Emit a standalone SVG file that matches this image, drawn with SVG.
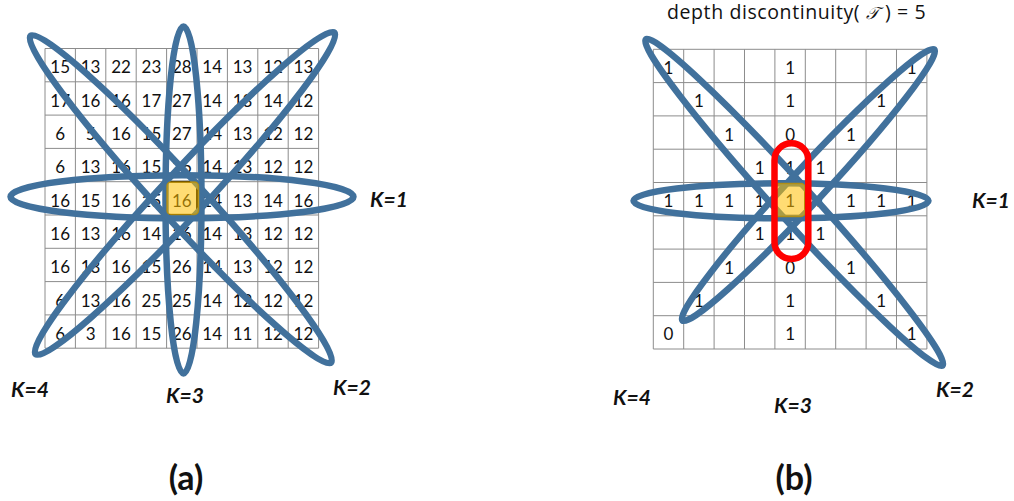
<svg xmlns="http://www.w3.org/2000/svg" width="1014" height="501" viewBox="0 0 1014 501">
<style>
.grid{fill:none;stroke:#8c8c8c;stroke-width:1}
.n{font-family:Lato,"Liberation Sans",sans-serif;font-size:17px;text-anchor:middle;fill:#111}
.k{font-family:Lato,"Liberation Sans",sans-serif;font-weight:bold;font-style:italic;font-size:21px;fill:#111}
.loop{fill:none;stroke:#41719C;stroke-width:6.5}
.hl{fill:#FFC000;fill-opacity:0.55;stroke:#BF9000;stroke-opacity:0.8;stroke-width:1.5}
.ctr{fill:none;stroke:#000;stroke-width:2}
.red{fill:none;stroke:#FF0000;stroke-width:6.5}
.cap{font-family:Lato,"Liberation Sans",sans-serif;font-weight:bold;font-size:34px;text-anchor:middle;fill:#111}
.title{font-family:"Open Sans","Liberation Sans",sans-serif;font-size:19.5px;letter-spacing:0.6px;fill:#111}
</style>
<defs>
<path id="g9" d="M0 0V299.7M30.4 0V299.7M60.8 0V299.7M91.2 0V299.7M121.6 0V299.7M152 0V299.7M182.4 0V299.7M212.8 0V299.7M243.2 0V299.7M273.6 0V299.7M0 0H273.6M0 33.3H273.6M0 66.6H273.6M0 99.9H273.6M0 133.2H273.6M0 166.5H273.6M0 199.8H273.6M0 233.1H273.6M0 266.4H273.6M0 299.7H273.6"/>
</defs>
<g id="panel-a">
<g id="grid-a"><use href="#g9" class="grid" transform="translate(45 48.5)"/><rect class="ctr" x="166.6" y="181.7" width="30.4" height="33.3"/></g>
<g id="values-a">
<text class="n" x="60.2" y="73.3">15</text><text class="n" x="90.6" y="73.3">13</text><text class="n" x="121" y="73.3">22</text><text class="n" x="151.4" y="73.3">23</text><text class="n" x="181.8" y="73.3">28</text><text class="n" x="212.2" y="73.3">14</text><text class="n" x="242.6" y="73.3">13</text><text class="n" x="273" y="73.3">12</text><text class="n" x="303.4" y="73.3">13</text>
<text class="n" x="60.2" y="106.6">17</text><text class="n" x="90.6" y="106.6">16</text><text class="n" x="121" y="106.6">16</text><text class="n" x="151.4" y="106.6">17</text><text class="n" x="181.8" y="106.6">27</text><text class="n" x="212.2" y="106.6">14</text><text class="n" x="242.6" y="106.6">13</text><text class="n" x="273" y="106.6">14</text><text class="n" x="303.4" y="106.6">12</text>
<text class="n" x="60.2" y="140">6</text><text class="n" x="90.6" y="140">5</text><text class="n" x="121" y="140">16</text><text class="n" x="151.4" y="140">15</text><text class="n" x="181.8" y="140">27</text><text class="n" x="212.2" y="140">14</text><text class="n" x="242.6" y="140">13</text><text class="n" x="273" y="140">12</text><text class="n" x="303.4" y="140">12</text>
<text class="n" x="60.2" y="173.3">6</text><text class="n" x="90.6" y="173.3">13</text><text class="n" x="121" y="173.3">16</text><text class="n" x="151.4" y="173.3">15</text><text class="n" x="181.8" y="173.3">16</text><text class="n" x="212.2" y="173.3">14</text><text class="n" x="242.6" y="173.3">13</text><text class="n" x="273" y="173.3">12</text><text class="n" x="303.4" y="173.3">12</text>
<text class="n" x="60.2" y="206.7">16</text><text class="n" x="90.6" y="206.7">15</text><text class="n" x="121" y="206.7">16</text><text class="n" x="151.4" y="206.7">15</text><text class="n" x="181.8" y="206.7">16</text><text class="n" x="212.2" y="206.7">14</text><text class="n" x="242.6" y="206.7">13</text><text class="n" x="273" y="206.7">14</text><text class="n" x="303.4" y="206.7">16</text>
<text class="n" x="60.2" y="240">16</text><text class="n" x="90.6" y="240">13</text><text class="n" x="121" y="240">16</text><text class="n" x="151.4" y="240">14</text><text class="n" x="181.8" y="240">16</text><text class="n" x="212.2" y="240">14</text><text class="n" x="242.6" y="240">13</text><text class="n" x="273" y="240">12</text><text class="n" x="303.4" y="240">12</text>
<text class="n" x="60.2" y="273.4">16</text><text class="n" x="90.6" y="273.4">13</text><text class="n" x="121" y="273.4">16</text><text class="n" x="151.4" y="273.4">15</text><text class="n" x="181.8" y="273.4">26</text><text class="n" x="212.2" y="273.4">14</text><text class="n" x="242.6" y="273.4">13</text><text class="n" x="273" y="273.4">12</text><text class="n" x="303.4" y="273.4">12</text>
<text class="n" x="60.2" y="306.7">6</text><text class="n" x="90.6" y="306.7">13</text><text class="n" x="121" y="306.7">16</text><text class="n" x="151.4" y="306.7">25</text><text class="n" x="181.8" y="306.7">25</text><text class="n" x="212.2" y="306.7">14</text><text class="n" x="242.6" y="306.7">12</text><text class="n" x="273" y="306.7">12</text><text class="n" x="303.4" y="306.7">12</text>
<text class="n" x="60.2" y="340.1">6</text><text class="n" x="90.6" y="340.1">3</text><text class="n" x="121" y="340.1">16</text><text class="n" x="151.4" y="340.1">15</text><text class="n" x="181.8" y="340.1">26</text><text class="n" x="212.2" y="340.1">14</text><text class="n" x="242.6" y="340.1">11</text><text class="n" x="273" y="340.1">12</text><text class="n" x="303.4" y="340.1">12</text>
</g>
<g id="loops-a">
<ellipse id="a-k1" class="loop" cx="182" cy="196.7" rx="171.5" ry="21.5"/>
<ellipse id="a-k3" class="loop" cx="183.5" cy="200" rx="18" ry="173.5"/>
<ellipse id="a-k2" class="loop" cx="180.8" cy="199.2" rx="222" ry="22" transform="rotate(47.4 180.8 199.2)"/>
<ellipse id="a-k4" class="loop" cx="185" cy="193.4" rx="219.5" ry="22" transform="rotate(-47.1 185 193.4)"/>
</g>
<rect id="a-center" class="hl" x="167" y="182" width="31.5" height="32.5" rx="4"/>
<g id="labels-a">
<text class="k" x="370" y="207">K=1</text><text class="k" x="11" y="397">K=4</text><text class="k" x="166" y="403">K=3</text><text class="k" x="333" y="395">K=2</text>
</g>
<text class="cap" x="186" y="490">(a)</text>
</g>
<g id="panel-b">
<text class="title" x="667" y="19">depth discontinuity( <tspan font-family="DejaVu Sans, Noto Sans, serif" font-style="italic" font-size="17px">𝒯</tspan> ) = 5</text>
<g id="grid-b"><use href="#g9" class="grid" transform="translate(653.3 49.3)"/><rect class="ctr" x="774.9" y="182.5" width="30.4" height="33.3"/></g>
<g id="values-b">
<text class="n" x="668.5" y="74.1">1</text><text class="n" x="790.1" y="74.1">1</text><text class="n" x="911.7" y="74.1">1</text>
<text class="n" x="698.9" y="107.3">1</text><text class="n" x="790.1" y="107.3">1</text><text class="n" x="881.3" y="107.3">1</text>
<text class="n" x="729.3" y="140.6">1</text><text class="n" x="790.1" y="140.6">0</text><text class="n" x="850.9" y="140.6">1</text>
<text class="n" x="759.7" y="173.8">1</text><text class="n" x="790.1" y="173.8">1</text><text class="n" x="820.5" y="173.8">1</text>
<text class="n" x="668.5" y="207.1">1</text><text class="n" x="698.9" y="207.1">1</text><text class="n" x="729.3" y="207.1">1</text><text class="n" x="759.7" y="207.1">1</text><text class="n" x="790.1" y="207.1">1</text><text class="n" x="820.5" y="207.1">1</text><text class="n" x="850.9" y="207.1">1</text><text class="n" x="881.3" y="207.1">1</text><text class="n" x="911.7" y="207.1">1</text>
<text class="n" x="759.7" y="240.3">1</text><text class="n" x="790.1" y="240.3">1</text><text class="n" x="820.5" y="240.3">1</text>
<text class="n" x="729.3" y="273.6">1</text><text class="n" x="790.1" y="273.6">0</text><text class="n" x="850.9" y="273.6">1</text>
<text class="n" x="698.9" y="306.8">1</text><text class="n" x="790.1" y="306.8">1</text><text class="n" x="881.3" y="306.8">1</text>
<text class="n" x="668.5" y="340.1">0</text><text class="n" x="790.1" y="340.1">1</text><text class="n" x="911.7" y="340.1">1</text>
</g>
<g id="loops-b">
<ellipse id="b-k1" class="loop" cx="781" cy="200.8" rx="147.5" ry="17.5"/>
<ellipse id="b-k2" class="loop" cx="794.2" cy="202.4" rx="220.5" ry="18" transform="rotate(47.7 794.2 202.4)"/>
<ellipse id="b-k4" class="loop" cx="808.4" cy="185" rx="185" ry="17" transform="rotate(-47.1 808.4 185)"/>
</g>
<rect id="b-center" class="hl" x="774" y="183.5" width="31" height="33" rx="4"/>
<rect id="b-k3" class="red" x="774.5" y="143.3" width="33.8" height="115.7" rx="16.9"/>
<g id="labels-b">
<text class="k" x="972" y="208">K=1</text><text class="k" x="613" y="405">K=4</text><text class="k" x="774" y="413">K=3</text><text class="k" x="936" y="397">K=2</text>
</g>
<text class="cap" x="794" y="490">(b)</text>
</g>
</svg>
